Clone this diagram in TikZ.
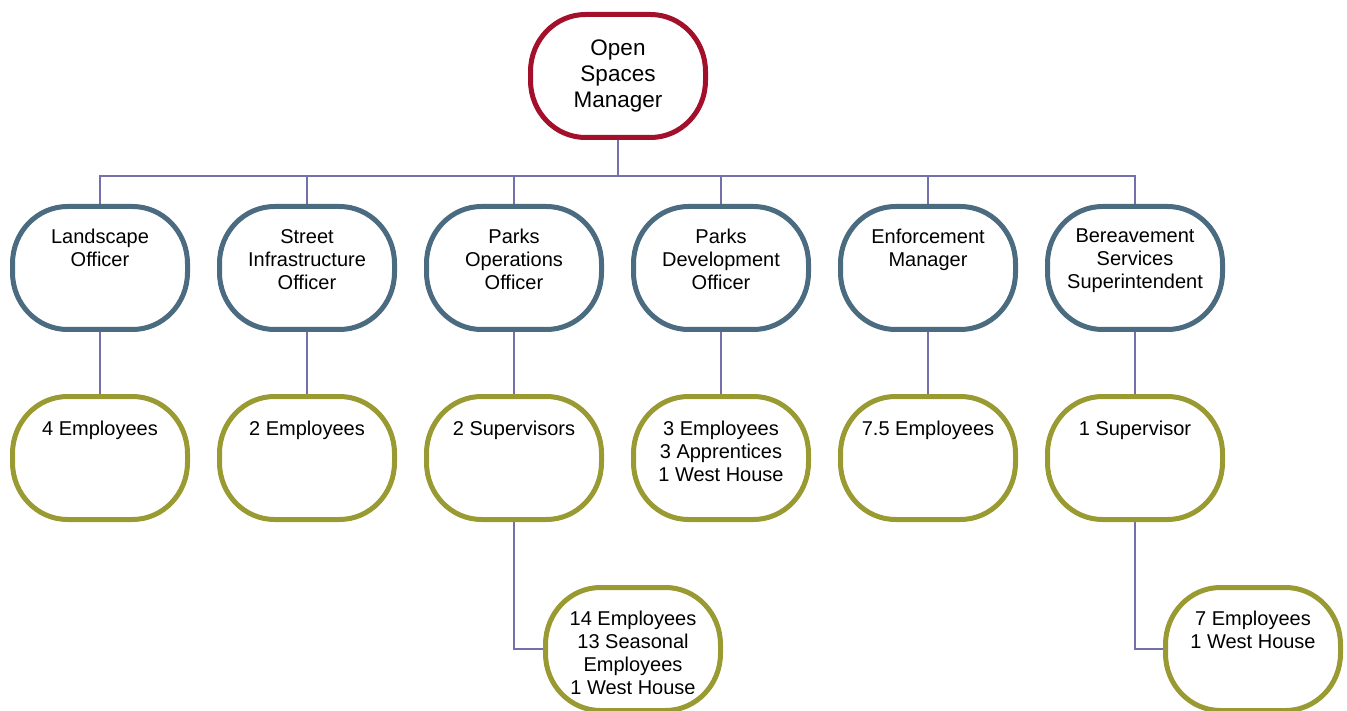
\documentclass[tikz,border=0pt]{standalone}
\usepackage{fontspec}
\setmainfont{Liberation Sans}
\definecolor{topred}{HTML}{A3102B}
\definecolor{midblue}{HTML}{4B6B80}
\definecolor{lowolive}{HTML}{9A9A33}
\definecolor{connpurple}{HTML}{7470AC}
\newcommand\ovalshape[2]{%
  \begin{scope}[shift={(#1.center)}, x=1pt, y=1pt]
    \draw[line width=5pt, draw=#2, fill=white]
      (-87.5,4.5) -- (-87.5,-4.5)
      arc[start angle=180, end angle=270, x radius=55, y radius=57] -- (32.5,-61.5)
      arc[start angle=270, end angle=360, x radius=55, y radius=57] -- (87.5,4.5)
      arc[start angle=0, end angle=90, x radius=55, y radius=57] -- (-32.5,61.5)
      arc[start angle=90, end angle=180, x radius=55, y radius=57] -- cycle;
  \end{scope}}
\begin{document}
\begin{tikzpicture}[x=1pt,y=-1pt,
  box/.style={minimum width=180pt, minimum height=128pt, inner sep=0pt, outer sep=0pt},
  txt/.style={anchor=north, align=center, inner sep=0pt, font=\fontsize{20}{23}\selectfont},
  toptxt/.style={txt, font=\fontsize{22.5}{26}\selectfont},
  conn/.style={draw=connpurple, line width=1.5pt}]
\useasboundingbox (0,0) rectangle (1347,711);
\clip (0,0) rectangle (1347,711);
\coordinate (bar) at (618,176);
\node[box] (osm) at (618,76) {};
\node[box] (lo) at (100,268) {};
\node[box] (sio) at (307,268) {};
\node[box] (poo) at (514,268) {};
\node[box] (pdo) at (721,268) {};
\node[box] (em) at (928,268) {};
\node[box] (bss) at (1135,268) {};
\node[box] (e4) at (100,458) {};
\node[box] (e2) at (307,458) {};
\node[box] (s2) at (514,458) {};
\node[box] (e3) at (721,458) {};
\node[box] (e75) at (928,458) {};
\node[box] (s1) at (1135,458) {};
\node[box] (e14) at (633,649) {};
\node[box] (e7) at (1253,649) {};
% tree lines
\draw[conn] (osm.south) -- (bar);
\draw[conn] (lo.north) |- (bar) -| (bss.north);
\foreach \n in {sio,poo,pdo,em}{\draw[conn] (\n.north) -- (\n.north |- bar);}
\foreach \a/\b in {lo/e4,sio/e2,poo/s2,pdo/e3,em/e75,bss/s1}{\draw[conn] (\a.south) -- (\b.north);}
\draw[conn] (s2.south) |- (e14.west);
\draw[conn] (s1.south) |- (e7.west);
% shapes
\ovalshape{osm}{topred}
\foreach \n in {lo,sio,poo,pdo,em,bss}{\ovalshape{\n}{midblue}}
\foreach \n in {e4,e2,s2,e3,e75,s1,e14,e7}{\ovalshape{\n}{lowolive}}
% texts
\node[toptxt] (tosm) at ([yshift=-28pt]osm.north) {Open\\Spaces\\Manager};
\node[txt] (tlo) at ([yshift=-25pt]lo.north) {Landscape\\Officer};
\node[txt] (tsio) at ([yshift=-25pt]sio.north) {Street\\Infrastructure\\Officer};
\node[txt] (tpoo) at ([yshift=-25pt]poo.north) {Parks\\Operations\\Officer};
\node[txt] (tpdo) at ([yshift=-25pt]pdo.north) {Parks\\Development\\Officer};
\node[txt] (tem) at ([yshift=-25pt]em.north) {Enforcement\\Manager};
\node[txt] (tbss) at ([yshift=-25pt]bss.north) {Bereavement\\Services\\Superintendent};
\node[txt] (te4) at ([yshift=-27pt]e4.north) {4 Employees};
\node[txt] (te2) at ([yshift=-27pt]e2.north) {2 Employees};
\node[txt] (ts2) at ([yshift=-27pt]s2.north) {2 Supervisors};
\node[txt] (te3) at ([yshift=-27pt]e3.north) {3 Employees\\3 Apprentices\\1 West House};
\node[txt] (te75) at ([yshift=-27pt]e75.north) {7.5 Employees};
\node[txt] (ts1) at ([yshift=-27pt]s1.north) {1 Supervisor};
\node[txt] (te7) at ([yshift=-26pt]e7.north) {7 Employees\\1 West House};
\begin{scope}
\clip (543,585) rectangle (723,693);
\node[txt] (te14) at ([yshift=-26pt]e14.north) {14 Employees\\13 Seasonal\\Employees\\1 West House};
\end{scope}
\end{tikzpicture}
\end{document}
